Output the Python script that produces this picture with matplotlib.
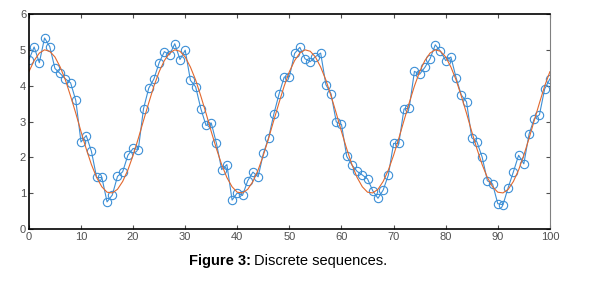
import numpy as np
import matplotlib.pyplot as plt

plt.rcParams['font.family'] = ['Liberation Sans', 'DejaVu Sans']

# amostras discretas (círculos azuis), uma por inteiro de 0 a 100
n = list(range(101))
amostras = [4.72, 5.08, 4.64, 5.33, 5.09, 4.48, 4.34, 4.19, 4.08, 3.59,
            2.43, 2.61, 2.17, 1.44, 1.44, 0.76, 0.95, 1.47, 1.60, 2.06,
            2.25, 2.22, 3.36, 3.93, 4.19, 4.64, 4.95, 4.86, 5.17, 4.73,
            4.99, 4.15, 3.97, 3.36, 2.89, 2.96, 2.39, 1.66, 1.80, 0.81,
            1.01, 0.94, 1.35, 1.59, 1.46, 2.11, 2.54, 3.20, 3.76, 4.24,
            4.25, 4.90, 5.07, 4.75, 4.67, 4.81, 4.91, 4.03, 3.77, 2.99,
            2.92, 2.03, 1.79, 1.61, 1.51, 1.40, 1.07, 0.86, 1.09, 1.51,
            2.39, 2.39, 3.35, 3.38, 4.40, 4.32, 4.51, 4.75, 5.14, 4.96,
            4.70, 4.80, 4.22, 3.74, 3.55, 2.55, 2.43, 2.01, 1.35, 1.26,
            0.71, 0.68, 1.16, 1.60, 2.06, 1.82, 2.65, 3.08, 3.19, 3.91,
            4.19]

curva = [4.39, 4.70, 4.91, 5.00, 4.96, 4.80, 4.52, 4.16, 3.71, 3.23,
         2.72, 2.24, 1.80, 1.44, 1.18, 1.03, 1.01, 1.11, 1.33, 1.65,
         2.06, 2.53, 3.03, 3.52, 3.99,
         4.39, 4.70, 4.91, 5.00, 4.96, 4.80, 4.52, 4.16, 3.71, 3.23,
         2.72, 2.24, 1.80, 1.44, 1.18, 1.03, 1.01, 1.11, 1.33, 1.65,
         2.06, 2.53, 3.03, 3.52, 3.99,
         4.39, 4.70, 4.91, 5.00, 4.96, 4.80, 4.52, 4.16, 3.71, 3.23,
         2.72, 2.24, 1.80, 1.44, 1.18, 1.03, 1.01, 1.11, 1.33, 1.65,
         2.06, 2.53, 3.03, 3.52, 3.99,
         4.39, 4.70, 4.91, 5.00, 4.96, 4.80, 4.52, 4.16, 3.71, 3.23,
         2.72, 2.24, 1.80, 1.44, 1.18, 1.03, 1.01, 1.11, 1.33, 1.65,
         2.06, 2.53, 3.03, 3.52, 3.99,
         4.39]

fig = plt.figure(figsize=(5.9, 2.85), dpi=100)
ax = fig.add_axes([0.049, 0.196, 0.883, 0.755])

ax.plot(n, amostras, color='#3C8FD6', lw=0.8, marker='o', ms=6,
        mfc='none', mew=0.8)
ax.plot(n, curva, color='#E2682E', lw=0.8)

ax.set_xlim(0, 100)
ax.set_ylim(0, 6)
ax.set_xticks(range(0, 101, 10))
ax.set_yticks(range(0, 7))
ax.tick_params(direction='in', top=True, right=True, length=3, width=0.8,
               labelsize=8, colors='#505050', pad=2)
for lado in ['left', 'bottom', 'top']:
    ax.spines[lado].set_linewidth(1.2)
    ax.spines[lado].set_color('black')
ax.spines['right'].set_linewidth(0.8)
ax.spines['right'].set_color('#808080')

# legenda da figura
fig.text(0.426, 0.085, 'Figure 3:', fontsize=10.5, fontweight='bold',
         ha='right', va='center')
fig.text(0.430, 0.085, 'Discrete sequences.', fontsize=10.5,
         ha='left', va='center')

fig.savefig('out.png', dpi=100)
